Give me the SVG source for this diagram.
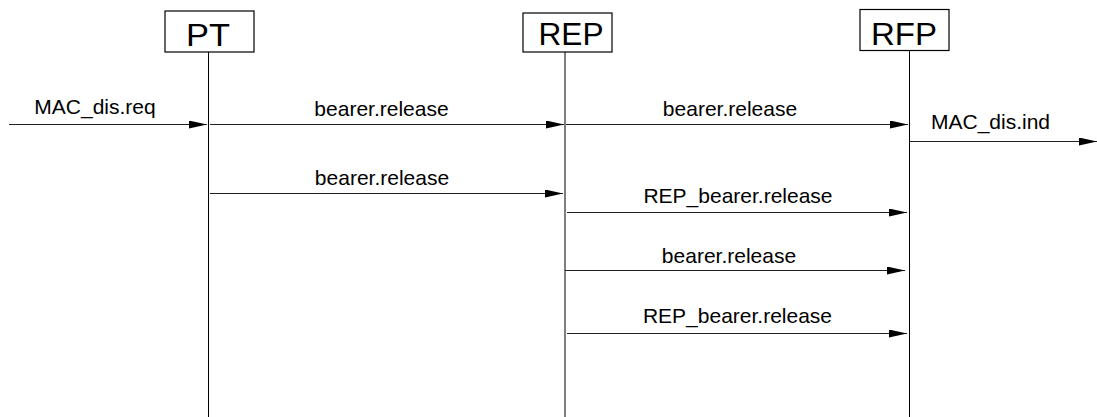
<svg xmlns="http://www.w3.org/2000/svg" width="1097" height="417" viewBox="0 0 1097 417">
<style>
.box{fill:#fff;stroke:#000;stroke-width:1.2}
.life{stroke:#000;stroke-width:1;fill:none}
.msg{stroke:#222;stroke-width:1;fill:none;marker-end:url(#ah)}
.nt{font-family:"Liberation Sans",Arial,sans-serif;font-size:31px;text-anchor:middle;fill:#000}
.lb{font-family:"Liberation Sans",Arial,sans-serif;font-size:21px;text-anchor:middle;fill:#000}
</style>
<defs>
<marker id="ah" markerUnits="userSpaceOnUse" markerWidth="18" markerHeight="8" refX="18" refY="4" orient="auto">
<path d="M0,0 L18,4 L0,8 z" fill="#000"/>
</marker>
</defs>
<rect width="1097" height="417" fill="#fff"/>
<g id="PT">
<rect class="box" x="165" y="11" width="89" height="41"/>
<text class="nt" x="208" y="46" textLength="44" lengthAdjust="spacingAndGlyphs">PT</text>
<line class="life" x1="208.5" y1="52" x2="208.5" y2="417"/>
</g>
<g id="REP">
<rect class="box" x="523" y="13" width="89" height="39"/>
<text class="nt" x="571" y="45" textLength="65" lengthAdjust="spacingAndGlyphs">REP</text>
<line class="life" x1="565" y1="52" x2="565" y2="417"/>
</g>
<g id="RFP">
<rect class="box" x="860" y="9.5" width="89" height="41"/>
<text class="nt" x="904" y="45" textLength="66" lengthAdjust="spacingAndGlyphs">RFP</text>
<line class="life" x1="909.5" y1="50.5" x2="909.5" y2="417"/>
</g>
<g id="connectors">
<line class="msg" x1="9" y1="124.5" x2="207" y2="124.5"/>
<text class="lb" x="95" y="113.5">MAC_dis.req</text>
<line class="msg" x1="210" y1="124.5" x2="564" y2="124.5"/>
<text class="lb" x="381.5" y="116">bearer.release</text>
<line class="msg" x1="566" y1="124.5" x2="908" y2="124.5"/>
<text class="lb" x="730" y="116">bearer.release</text>
<line class="msg" x1="910" y1="141.5" x2="1097" y2="141.5"/>
<text class="lb" x="990.5" y="129">MAC_dis.ind</text>
<line class="msg" x1="210" y1="193.5" x2="563" y2="193.5"/>
<text class="lb" x="382" y="185">bearer.release</text>
<line class="msg" x1="567" y1="212.5" x2="907" y2="212.5"/>
<text class="lb" x="738" y="202.5">REP_bearer.release</text>
<line class="msg" x1="565" y1="270.5" x2="905" y2="270.5"/>
<text class="lb" x="729" y="263">bearer.release</text>
<line class="msg" x1="567" y1="333.5" x2="907" y2="333.5"/>
<text class="lb" x="737.5" y="322.5">REP_bearer.release</text>
</g>
</svg>
